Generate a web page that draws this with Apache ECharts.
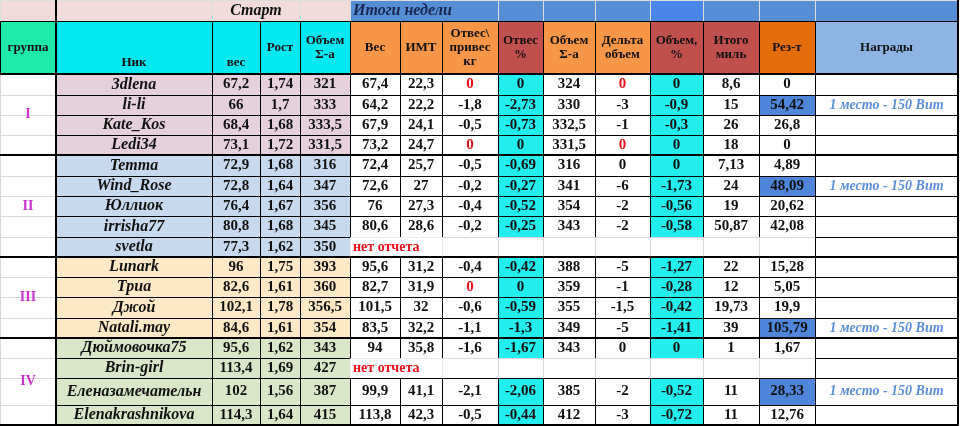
<!DOCTYPE html>
<html>
<head>
<meta charset="utf-8">
<script src="https://cdn.jsdelivr.net/npm/echarts@6/dist/echarts.min.js"></script>
<style>
  body { margin: 0; background: #fff; }
  #chart { width: 963px; height: 426px; }
</style>
</head>
<body>
<div id="chart"></div>
<script>
// table data, one entry per participant
var groups = ['I', 'I', 'I', 'I', 'II', 'II', 'II', 'II', 'II', 'III', 'III', 'III', 'III', 'IV', 'IV', 'IV', 'IV']
var nicks = ['3dlena', 'li-li', 'Kate_Kos', 'Ledi34', 'Temma', 'Wind_Rose', 'Юллиок', 'irrisha77', 'svetla',
  'Lunark', 'Триа', 'Джой', 'Natali.may', 'Дюймовочка75', 'Brin-girl', 'Еленазамечательн', 'Elenakrashnikova']
var startWeight = [67.2, 66, 68.4, 73.1, 72.9, 72.8, 76.4, 80.8, 77.3, 96, 82.6, 102.1, 84.6, 95.6, 113.4, 102, 114.3]
var heights = [1.74, 1.7, 1.68, 1.72, 1.68, 1.64, 1.67, 1.68, 1.62, 1.75, 1.61, 1.78, 1.61, 1.62, 1.69, 1.56, 1.64]
var startVolume = [321, 333, 333.5, 331.5, 316, 347, 356, 345, 350, 393, 360, 356.5, 354, 343, 427, 387, 415]
var weight = [67.4, 64.2, 67.9, 73.2, 72.4, 72.6, 76, 80.6, null, 95.6, 82.7, 101.5, 83.5, 94, null, 99.9, 113.8]
var bmi = [22.3, 22.2, 24.1, 24.7, 25.7, 27, 27.3, 28.6, null, 31.2, 31.9, 32, 32.2, 35.8, null, 41.1, 42.3]
var lossKg = [0, -1.8, -0.5, 0, -0.5, -0.2, -0.4, -0.2, null, -0.4, 0, -0.6, -1.1, -1.6, null, -2.1, -0.5]
var lossPct = [0, -2.73, -0.73, 0, -0.69, -0.27, -0.52, -0.25, null, -0.42, 0, -0.59, -1.3, -1.67, null, -2.06, -0.44]
var volume = [324, 330, 332.5, 331.5, 316, 341, 354, 343, null, 388, 359, 355, 349, 343, null, 385, 412]
var deltaVolume = [0, -3, -1, 0, 0, -6, -2, -2, null, -5, -1, -1.5, -5, 0, null, -2, -3]
var volumePct = [0, -0.9, -0.3, 0, 0, -1.73, -0.56, -0.58, null, -1.27, -0.28, -0.42, -1.41, 0, null, -0.52, -0.72]
var miles = [8.6, 15, 26, 18, 7.13, 24, 19, 50.87, null, 22, 12, 19.73, 39, 1, null, 11, 11]
var result = [0, 54.42, 26.8, 0, 4.89, 48.09, 20.62, 42.08, null, 15.28, 5.05, 19.9, 105.79, 1.67, null, 28.33, 12.76]
var awards = ['', '1 место - 150 Вит', '', '', '', '1 место - 150 Вит', '', '', '', '', '', '', '1 место - 150 Вит', '', '', '1 место - 150 Вит', '']
var headerTop = ['', '', 'Старт', '', 'Итоги недели', '', '', '', '', '', '', '']
var headerCols = ['группа', 'Ник', 'вес', 'Рост', 'Объем\nΣ-а', 'Вес', 'ИМТ', 'Отвес\\\nпривес\nкг', 'Отвес\n%', 'Объем\nΣ-а', 'Дельта\nобъем', 'Объем,\n%', 'Итого\nмиль', 'Рез-т', 'Награды']
var noReport = 'нет отчета'

// layout
var colX = [0, 56, 212, 260, 300, 350, 400, 442, 498, 543, 595, 650, 703, 759, 815, 958]
var rowY = [74, 95, 115, 135, 155, 176, 196, 216, 237, 257, 277, 297, 318, 338, 358, 378, 405, 425]
var topX = [0, 56, 212, 300, 350, 498, 543, 595, 650, 703, 759, 815, 958]
var groupBg = { I: '#e6d0dc', II: '#c6d9ef', III: '#fde9c6', IV: '#d9e6c8' }
var headBg = ['#1de9a8', '#00e8f0', '#00e8f0', '#00e8f0', '#00e8f0', '#f79646', '#f79646', '#f79646',
  '#c0504d', '#f79646', '#f79646', '#c0504d', '#c0504d', '#e46c0a', '#8db4e2']
var serif = '"Liberation Serif", "DejaVu Serif", serif'

function fmt (v) { return String(v).replace('.', ',') }

var cells = []
function cell (x0, x1, y0, y1, o) {
  cells.push(Object.assign({ x0: x0, x1: x1, y0: y0, y1: y1, text: '', bg: '#fff', color: '#111',
    stroke: '#000', size: 15, italic: false, align: 'center', va: 'middle' }, o))
}

// top header row
headerTop.forEach(function (t, i) {
  var bg = i < 4 ? '#f2dcdb' : (i === 8 ? '#4a86e8' : '#558ed5')
  cell(topX[i], topX[i + 1], 0, 21, { text: t, bg: bg, stroke: '#ddd', italic: true, size: 16,
    color: i === 4 ? '#1a2550' : '#111', align: i === 4 ? 'left' : 'center' })
})
// column header row
headerCols.forEach(function (t, i) {
  var bottom = i === 1 || i === 2
  cell(colX[i], colX[i + 1], 21, 74, { text: t, bg: headBg[i], size: 13, va: bottom ? 'bottom' : 'middle' })
})
// body
nicks.forEach(function (nick, r) {
  var y0 = rowY[r]; var y1 = rowY[r + 1]
  var g = groups[r]; var bg = groupBg[g]
  var gained = weight[r] !== null && weight[r] > startWeight[r]
  cell(0, 56, y0, y1, { stroke: '#d8d8d8' })
  cell(56, 212, y0, y1, { text: nick, bg: bg, italic: true, size: 16 })
  cell(212, 260, y0, y1, { text: fmt(startWeight[r]), bg: bg })
  cell(260, 300, y0, y1, { text: fmt(heights[r]), bg: bg })
  cell(300, 350, y0, y1, { text: fmt(startVolume[r]), bg: bg })
  if (weight[r] === null) {
    for (var c = 5; c < 14; c++) cell(colX[c], colX[c + 1], y0, y1, { stroke: '#d8d8d8' })
    cell(350, 442, y0, y1, { text: noReport, stroke: 'none', color: '#e8101a', align: 'left', size: 14 })
  } else {
    var cols = [weight, bmi, lossKg, lossPct, volume, deltaVolume, volumePct, miles, result]
    cols.forEach(function (arr, k) {
      var v = arr[r]; var o = { text: fmt(v) }
      if (k === 3 || k === 6) o.bg = '#22eeee'
      if ((k === 2 || k === 5) && v === 0 && gained) o.color = '#e8101a'
      if (k === 8 && awards[r]) o.bg = '#4f86dc'
      cell(colX[5 + k], colX[6 + k], y0, y1, o)
    })
  }
  cell(815, 958, y0, y1, { text: awards[r], italic: true, color: '#5b8fd9', size: 14 })
})
// group labels
var groupNames = ['I', 'II', 'III', 'IV']
groupNames.forEach(function (g) {
  var first = groups.indexOf(g); var last = groups.lastIndexOf(g)
  cell(0, 56, rowY[first], rowY[last + 1], { text: g, stroke: 'none', bg: 'none', color: '#cc33cc', size: 14 })
})

// thick separators between groups
var sepLines = [[0, 958, 74, 74], [56, 56, 0, 425], [958, 958, 0, 425], [0, 958, 425, 425]]
groupNames.forEach(function (g) {
  var y = rowY[groups.lastIndexOf(g) + 1]
  sepLines.push([0, 958, y, y])
})

var chart = echarts.init(document.getElementById('chart'))
chart.setOption({
  animation: false,
  grid: { left: 0, right: 0, top: 0, bottom: 0 },
  xAxis: { type: 'value', min: 0, max: 963, show: false },
  yAxis: { type: 'value', min: 0, max: 426, inverse: true, show: false },
  series: [
    {
      type: 'custom',
      data: cells.map(function (c, i) { return [c.x0, c.y0, c.x1, c.y1, i] }),
      renderItem: function (params, api) {
        var c = cells[api.value(4)]
        var p0 = api.coord([api.value(0), api.value(1)])
        var p1 = api.coord([api.value(2), api.value(3)])
        var w = p1[0] - p0[0]; var h = p1[1] - p0[1]
        var tx = c.align === 'left' ? p0[0] + 3 : p0[0] + w / 2
        var ty = c.va === 'bottom' ? p1[1] - 4 : p0[1] + h / 2
        return {
          type: 'group',
          children: [
            { type: 'rect', shape: { x: p0[0] + 0.5, y: p0[1] + 0.5, width: w, height: h },
              style: { fill: c.bg === 'none' ? null : c.bg, stroke: c.stroke === 'none' ? null : c.stroke, lineWidth: 1 } },
            { type: 'text', x: tx, y: ty,
              style: { text: c.text, fill: c.color, align: c.align, verticalAlign: c.va,
                font: (c.italic ? 'italic ' : '') + 'bold ' + c.size + 'px ' + serif, lineHeight: c.size + 1 } }
          ]
        }
      }
    },
    {
      type: 'custom',
      data: sepLines,
      renderItem: function (params, api) {
        var a = api.coord([api.value(0), api.value(2)])
        var b = api.coord([api.value(1), api.value(3)])
        return { type: 'line', shape: { x1: a[0], y1: a[1], x2: b[0], y2: b[1] },
          style: { stroke: '#000', lineWidth: 2 } }
      }
    }
  ]
})
</script>
</body>
</html>
